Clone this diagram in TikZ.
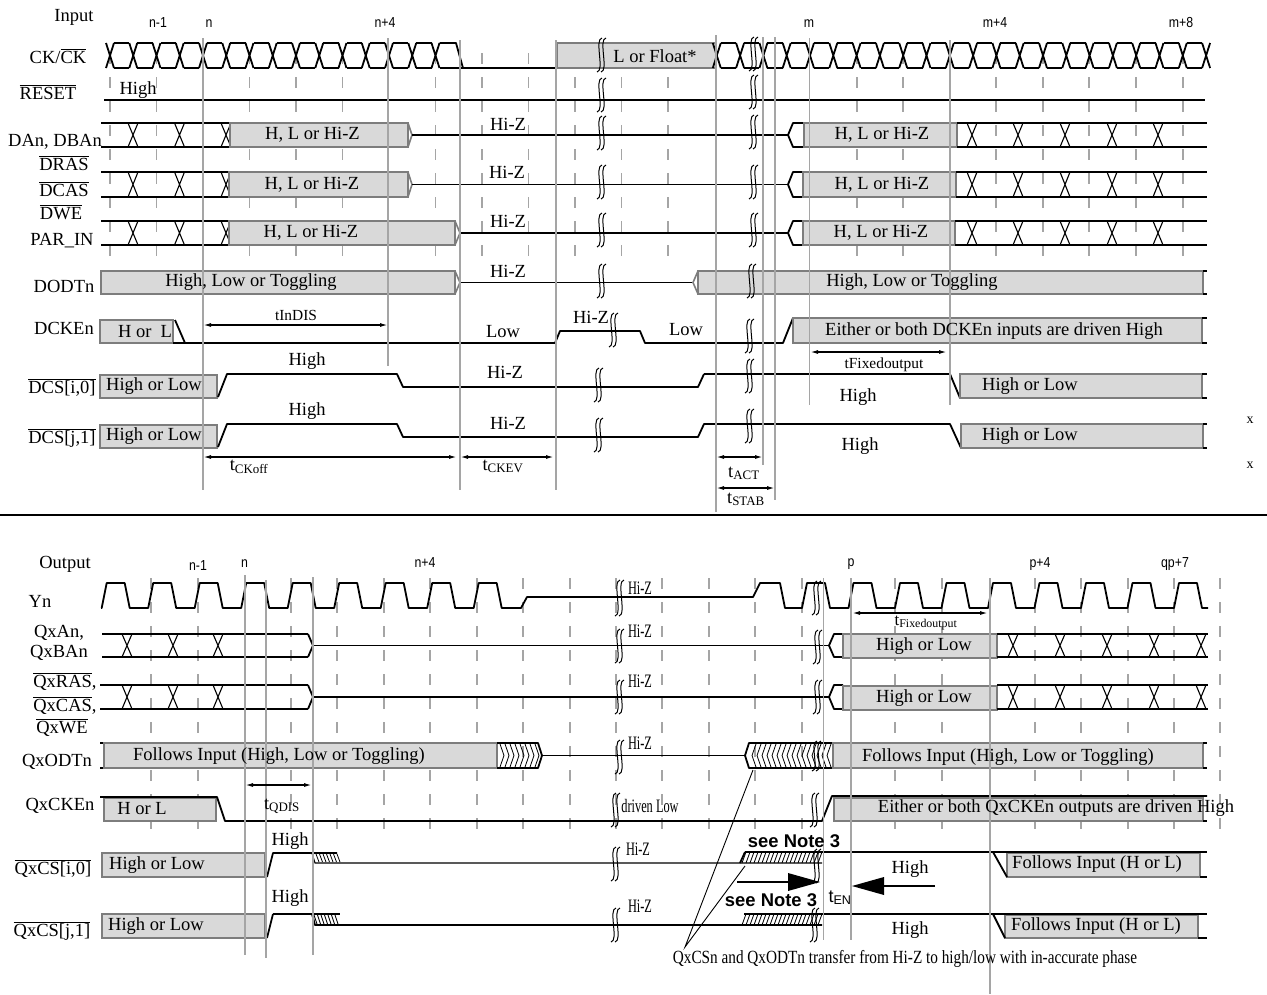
\documentclass[tikz,border=0pt]{standalone}
\usepackage{fontspec}
\setmainfont{Liberation Serif}
\setsansfont{Liberation Sans}
\newfontfamily\nsans[FakeStretch=0.85]{Liberation Sans}
\newfontfamily\sqz[FakeStretch=0.65]{Liberation Serif}
\newfontfamily\sqzn[FakeStretch=0.82]{Liberation Serif}
\usetikzlibrary{arrows.meta}
\definecolor{bfill}{RGB}{217,217,217}
\definecolor{bedge}{RGB}{125,125,125}
\definecolor{vgray}{RGB}{165,165,165}
\newcommand\fA{\fontsize{18.5}{20}\selectfont}
\newcommand\fB{\fontsize{15.4}{17}\selectfont}
\newcommand\fC{\fontsize{17}{18}\selectfont}
\newcommand\fN{\nsans\fontsize{14.5}{15}\selectfont}
\newcommand\fS{\sqz\fontsize{19}{20}\selectfont}
\newcommand\fT{\sqzn\fontsize{18.6}{20}\selectfont}
\newcommand\fX{\fontsize{14}{15}\selectfont}
\newcommand\fQ{\sffamily\bfseries\fontsize{18.4}{20}\selectfont}
\newcommand\fE{\sffamily\fontsize{18}{20}\selectfont}
\newcommand\ov[1]{\ensuremath{\overline{\mbox{#1}}}}
\newcommand\BX[4]{\foreach \xx in {#1} {\draw[sigt] ({\xx-#4},#2)--({\xx+#4},#3) ({\xx-#4},#3)--({\xx+#4},#2);}}
\newcommand\Brk[3]{%
 \draw[brkl] ({#1+2},{#2-#3}) .. controls ({#1-6},{#2-#3+1}) and ({#1+5},{#2+#3-1}) .. ({#1-3},{#2+#3});
 \draw[brkl] ({#1+6},{#2-#3}) .. controls ({#1-2},{#2-#3+1}) and ({#1+9},{#2+#3-1}) .. ({#1+1},{#2+#3});}
\tikzset{
 sig/.style={line width=1.8pt, line join=round},
 sigt/.style={line width=1.1pt},
 bx/.style={draw=bedge, fill=bfill, line width=1.6pt},
 gtip/.style={draw=bedge, line width=1.6pt},
 vl/.style={draw=vgray, line width=1.4pt},
 tk/.style={draw=vgray, line width=1.8pt, dash pattern=on 11pt off 13pt},
 brkl/.style={line width=1pt},
 dim/.style={line width=1.4pt, {Latex[length=8pt,width=4pt]}-{Latex[length=8pt,width=4pt]}},
 hat/.style={line width=0.8pt},
 lb/.style={anchor=base}
}
\begin{document}
\begin{tikzpicture}[x=1pt,y=-1pt, every node/.style={inner sep=0pt,outer sep=0pt,font=\fA}]
\useasboundingbox (0,0) rectangle (1267,994);
\fill[white] (0,0) rectangle (1267,994);

% ---------------- ticks ----------------
\foreach \x in {110,156.5,249.5,296,342.5,435.5,482,528.5,575,621.5,668,857,903,996,1043,1089,1136,1183}
  {\draw[tk] (\x,53) -- (\x,260);}
\foreach \x in {151,198,291,337,384,430,477,523,570,616,662,709,755,802,895,942,1035,1081,1128,1174,1220}
  {\draw[tk] (\x,578) -- (\x,830);}

% ================= INPUT SECTION =================
\foreach \i in {0,...,14} {\pgfmathsetmacro\c{110+23.25*\i}
  \draw[sig] ({\c-4},43)--({\c+4},68) ({\c-4},68)--({\c+4},43);}
\foreach \i in {0,...,13} {\pgfmathsetmacro\c{110+23.25*\i}
  \draw[sig] ({\c+4},43)--({\c+19.25},43) ({\c+4},68)--({\c+19.25},68);}
\draw[sig] (439.5,43)--(456,43)--(463,68);
\draw[sig] (439.5,68)--(557,68);
\draw[bx] (557,43) rectangle (716,68);
\node (lf) at (655,56) {L or Float*};
\foreach \i in {0,...,21} {\pgfmathsetmacro\c{716.8+23.3*\i}
  \draw[sig] ({\c-4},43)--({\c+4},68) ({\c-4},68)--({\c+4},43);}
\foreach \i in {0,...,20} {\pgfmathsetmacro\c{716.8+23.3*\i}
  \draw[sig] ({\c+4},43)--({\c+19.3},43) ({\c+4},68)--({\c+19.3},68);}

% RESET
\draw[sig] (104,100)--(1205,100);

% DAn row
\draw[sig] (101,123)--(230,123) (101,147)--(230,147);
\BX{133,179.5,226}{123}{147}{5}
\draw[bx] (230,123) rectangle (408,147);
\draw[gtip] (408,123)--(412,135)--(408,147);
\draw[sigt] (412,135)--(788,135);
\draw[sig] (804,123)--(793,123)--(788,135)--(793,147)--(804,147);
\draw[bx] (804,123) rectangle (957,147);
\draw[sig] (957,123)--(1207,123) (957,147)--(1207,147);
\BX{972,1018,1065,1112,1158}{123}{147}{5}

% DRAS row
\draw[sig] (101,172)--(229,172) (101,197)--(229,197);
\BX{133,179.5,226}{172}{197}{5}
\draw[bx] (229,172) rectangle (408,197);
\draw[gtip] (408,172)--(412,184.5)--(408,197);
\draw[sigt] (412,184.5)--(788,184.5);
\draw[sig] (803,172)--(793,172)--(788,184.5)--(793,197)--(803,197);
\draw[bx] (803,172) rectangle (956,197);
\draw[sig] (956,172)--(1207,172) (956,197)--(1207,197);
\BX{972,1018,1065,1112,1158}{172}{197}{5}

% DWE row
\draw[sig] (101,221)--(229,221) (101,245)--(229,245);
\BX{133,179.5,226}{221}{245}{5}
\draw[bx] (229,221) rectangle (455,245);
\draw[gtip] (455,221)--(460,233)--(455,245);
\draw[sigt] (460,233)--(788,233);
\draw[sig] (803,221)--(793,221)--(788,233)--(793,245)--(803,245);
\draw[bx] (803,221) rectangle (955,245);
\draw[sig] (955,221)--(1207,221) (955,245)--(1207,245);
\BX{972,1018,1065,1112,1158}{221}{245}{5}

% DODTn
\draw[bx] (101,271) rectangle (455,294);
\draw[gtip] (455,271)--(460,282.5)--(455,294);
\draw[sig] (460,282.5)--(693,282.5);
\draw[gtip] (698,271)--(693,282.5)--(698,294);
\draw[bx] (698,271) rectangle (1203,294);
\draw[sig] (1203,271)--(1207,271) (1203,294)--(1207,294);

% DCKEn
\draw[bx] (100,320) rectangle (173,343);
\draw[sig] (175,320)--(185,343);
\draw[sig] (173,343)--(555,343)--(560,331)--(640,331)--(645,343)--(783,343)--(793,318);
\draw[bx] (793,318) rectangle (1202,343);
\draw[sig] (1202,318)--(1207,318) (1202,343)--(1207,343);

% DCS[i,0]
\draw[bx] (100,375) rectangle (217,398);
\draw[sig] (218,397)--(227,374)--(397,374)--(403,387)--(698,387)--(704,374);
\draw[sigt] (704,374)--(950,374);
\draw[sig] (950,374)--(960,398);
\draw[bx] (960,374) rectangle (1202,398);
\draw[sig] (1202,374)--(1207,374) (1202,398)--(1207,398);

% DCS[j,1]
\draw[bx] (100,425) rectangle (217,448);
\draw[sig] (218,447)--(227,424)--(397,424)--(403,437)--(698,437)--(704,424)--(950,424)--(961,448);
\draw[bx] (961,424) rectangle (1203,448);
\draw[sig] (1203,424)--(1207,424) (1203,448)--(1207,448);

% vertical lines (input)
\draw[vl] (203,38)--(203,490);
\draw[vl] (388,38)--(388,366);
\draw[vl] (460,40)--(460,490);
\draw[vl] (556,40)--(556,490);
\draw[vl] (716,35)--(716,512);
\draw[vl] (763,37)--(763,465);
\draw[vl] (775,37)--(775,500);
\draw[vl] (809.5,38)--(809.5,405);
\draw[vl] (950,40)--(950,405);

% dimension arrows (input)
\coordinate (a1) at (203,325); \coordinate (a2) at (388,325);
\draw[dim] (a1)--(a2);
\coordinate (b1) at (203,457); \coordinate (b2) at (457,457);
\draw[dim] (b1)--(b2);
\coordinate (c1) at (460,457); \coordinate (c2) at (554,457);
\draw[dim] (c1)--(c2);
\coordinate (d1) at (716,457); \coordinate (d2) at (763,457);
\draw[dim] (d1)--(d2);
\coordinate (e1) at (716,488); \coordinate (e2) at (775,488);
\draw[dim] (e1)--(e2);
\coordinate (f1) at (810,352); \coordinate (f2) at (947,352);
\draw[dim] (f1)--(f2);

% breaks (input)
\foreach \y in {55,95,133,182,230,281} {\Brk{600}{\y}{17}}
\Brk{612}{330}{17}
\Brk{597}{385}{17}
\Brk{597}{435}{17}
\foreach \y in {54,92,132,182,230} {\Brk{752}{\y}{17}}
\Brk{750}{281}{17}
\Brk{748}{336}{17}
\Brk{748}{376}{17}
\Brk{748}{426}{17}

% texts (input)
\node[lb] (tin) at (74,21) {Input};
\node[lb,font=\fN] (tn1) at (158,27) {n-1};
\node[lb,font=\fN] (tn) at (209,27) {n};
\node[lb,font=\fN] (tn4) at (385,27) {n+4};
\node[lb,font=\fN] (tm) at (809,27) {m};
\node[lb,font=\fN] (tm4) at (995,27) {m+4};
\node[lb,font=\fN] (tm8) at (1181,27) {m+8};
\node[lb] (lck) at (58,63) {CK/\ov{CK}};
\node[lb] (lrst) at (48,99) {\ov{RESET}};
\node[lb] (hi1) at (138,94) {High};
\node[lb] (ldan) at (55,146) {DAn, DBAn};
\node[lb] (ldras) at (64,170) {\ov{DRAS}};
\node[lb] (ldcas) at (64,196) {\ov{DCAS}};
\node[lb] (ldwe) at (61,219) {\ov{DWE}};
\node[lb] (lpar) at (62,245) {PAR\_IN};
\node[lb] (lodt) at (64,292) {DODTn};
\node[lb] (lcke) at (64,334) {DCKEn};
\node[lb] (lcsi) at (62,393) {\ov{DCS[i,0]}};
\node[lb] (lcsj) at (62,443) {\ov{DCS[j,1]}};
\node (bx1) at (312.5,135) {H, L or Hi-Z};
\node (bx2) at (312,184.5) {H, L or Hi-Z};
\node (bx3) at (311,233) {H, L or Hi-Z};
\node (bx4) at (882,135) {H, L or Hi-Z};
\node (bx5) at (882,184.5) {H, L or Hi-Z};
\node (bx6) at (881,233) {H, L or Hi-Z};
\node (bx7) at (251,282.5) {High, Low or Toggling};
\node (bx8) at (912,282.5) {High, Low or Toggling};
\node (bx9) at (145,332) {H or~ L};
\node (bx10) at (994,331) {Either or both DCKEn inputs are driven High};
\node (bx11) at (154,386.5) {High or Low};
\node (bx12) at (154,436.5) {High or Low};
\node (bx13) at (1030,386) {High or Low};
\node (bx14) at (1030,436) {High or Low};
\node[lb] (hz1) at (508,130) {Hi-Z};
\node[lb] (hz2) at (507,178) {Hi-Z};
\node[lb] (hz3) at (508,227) {Hi-Z};
\node[lb] (hz4) at (508,277) {Hi-Z};
\node[lb] (hz5) at (591,323) {Hi-Z};
\node[lb] (hz6) at (505,378) {Hi-Z};
\node[lb] (hz7) at (508,429) {Hi-Z};
\node[lb] (lo1) at (503,337) {Low};
\node[lb] (lo2) at (686,335) {Low};
\node[lb,font=\fB] (tind) at (296,320) {tInDIS};
\node[lb] (hi2) at (307,365) {High};
\node[lb] (hi3) at (307,415) {High};
\node[lb] (tcko) at (249,470) {t\textsubscript{CKoff}};
\node[lb] (tckev) at (503,470) {t\textsubscript{CKEV}};
\node[lb] (tact) at (744,477) {t\textsubscript{ACT}};
\node[lb] (tstab) at (746,503) {t\textsubscript{STAB}};
\node[lb,font=\fB] (tfix1) at (884,368) {tFixedoutput};
\node[lb] (hi4) at (858,401) {High};
\node[lb] (hi5) at (860,450) {High};
\node[lb,font=\fX] (x1) at (1250,423) {x};
\node[lb,font=\fX] (x2) at (1250,468) {x};

% separator
\draw[line width=2.6pt] (0,515)--(1267,515);

% ================= OUTPUT SECTION =================
\draw[sig] (101,608)
  foreach \r in {104.2,150.7,197.2,243.7,290.2,336.7,383.2,429.7,476.2} {
    -- ({\r-2.5},608) -- ({\r+2.5},583) -- ({\r+20.5},583) -- ({\r+25.5},608) }
  -- (521,608) -- (527,597) -- (753,597) -- (760,583) -- (780,583) -- (785,608)
  foreach \r in {804.5,851,897.5,944,990.5,1037,1083.5,1130,1176.5} {
    -- ({\r-2.5},608) -- ({\r+2.5},583) -- ({\r+20.5},583) -- ({\r+25.5},608) }
  -- (1208,608);

% QxAn
\draw[sig] (102,634)--(308,634) (102,657)--(308,657);
\BX{127,173,218}{634}{657}{5}
\draw[sig] (308,634)--(313,645.5)--(308,657);
\draw[sigt] (313,645.5)--(829,645.5);
\draw[sig] (843,634)--(834,634)--(829,645.5)--(834,657)--(843,657);
\draw[bx] (843,634) rectangle (997,658);
\draw[sig] (997,634)--(1208,634) (997,657)--(1208,657);
\BX{1013,1060,1107,1154,1201}{634}{657}{5}

% QxRAS
\draw[sig] (100,685)--(308,685) (100,709)--(308,709);
\BX{127,173,218}{685}{709}{5}
\draw[sig] (308,685)--(313,697)--(308,709);
\draw[sig] (313,697)--(829,697);
\draw[sig] (843,685)--(834,685)--(829,697)--(834,709)--(843,709);
\draw[bx] (843,686) rectangle (997,710);
\draw[sig] (997,685)--(1208,685) (997,709)--(1208,709);
\BX{1013,1060,1107,1154,1201}{685}{709}{5}

% QxODTn
\draw[sig] (100,743)--(104,743) (100,768)--(104,768);
\draw[bx] (104,743) rectangle (497,768);
\draw[sig] (497,743)--(538,743)--(542,755.5)--(538,768)--(497,768);
\foreach \x in {500,505,...,535} {\draw[hat] (\x,744)--({\x+4},755.5)--(\x,767);}
\draw[sigt] (542,755.5)--(745,755.5);
\draw[sig] (833,743)--(749,743)--(745,755.5)--(749,768)--(833,768);
\foreach \x in {752,757,...,827} {\draw[hat] ({\x+4},744)--(\x,755.5)--({\x+4},767);}
\draw[bx] (833,743) rectangle (1203,768);
\draw[sig] (1203,743)--(1207,743) (1203,768)--(1207,768);

% QxCKEn
\draw[bx] (104,798) rectangle (216,821);
\draw[sig] (100,797)--(217,797)--(225,821)--(822,821)--(832,796)--(1207,796);
\draw[bx] (834,798) rectangle (1203,821);
\draw[sig] (1203,821)--(1207,821);

% QxCS[i,0]
\draw[bx] (102,853) rectangle (265,877);
\draw[sig] (267,877)--(273,853)--(337,853);
\draw[sigt] (312,853)--(315,863)--(822,863);
\foreach \x in {316,319.5,...,338} {\draw[hat] (\x,854)--({\x+3},862);}
\foreach \x in {742,746,...,818} {\draw[hat] (\x,863)--({\x+4},852);}
\draw[sig] (740,863)--(745,852);
\draw[bx] (1007,853) rectangle (1200,877);
\draw[sig] (745,852)--(1207,852);
\draw[sig] (993,852)--(1007,877);
\draw[sig] (1200,877)--(1207,877);

% QxCS[j,1]
\draw[bx] (102,914) rectangle (265,938);
\draw[sig] (267,938)--(273,914);
\draw[sigt] (273,914)--(340,914);
\foreach \x in {314,317.5,...,338} {\draw[hat] (\x,915)--({\x+3},924);}
\draw[sig] (312,914)--(315,925)--(822,925);
\foreach \x in {742,746,...,818} {\draw[hat] (\x,925)--({\x+4},914);}
\draw[bx] (1005,915) rectangle (1198,938);
\draw[sig] (744,914)--(1207,914);
\draw[sig] (993,914)--(1005,938);
\draw[sig] (1198,938)--(1207,938);

% vertical lines (output)
\draw[vl] (245,575)--(245,955);
\draw[vl] (266,580)--(266,958);
\draw[vl] (313,577)--(313,955);
\draw[draw=vgray, line width=1pt] (823,578)--(823,940);
\draw[vl] (851,578)--(851,940);
\draw[vl] (990,578)--(990,994);

% dimension arrows (output)
\coordinate (g1) at (245,785); \coordinate (g2) at (312,785);
\draw[dim] (g1)--(g2);
\coordinate (h1) at (852,613); \coordinate (h2) at (988,613);
\draw[dim] (h1)--(h2);
\coordinate (ra) at (737,882); \coordinate (rb) at (790,882);
\draw[line width=1.8pt] (ra)--(rb);
\fill (788,873)--(820,882)--(788,891)--cycle;
\coordinate (la) at (935,886); \coordinate (lb2) at (882,886);
\draw[line width=1.8pt] (la)--(lb2);
\fill (884,877)--(852,886)--(884,895)--cycle;

% breaks (output)
\Brk{618}{598}{18}
\Brk{618}{646}{17}
\Brk{618}{697}{17}
\Brk{618}{757}{17}
\Brk{614}{810}{17}
\Brk{614}{864}{17}
\Brk{614}{925}{17}
\Brk{815}{598}{17}
\Brk{816}{647}{17}
\Brk{816}{697}{17}
\Brk{815}{756}{15}
\Brk{813}{810}{17}
\Brk{815}{866}{17}
\Brk{813}{925}{17}

% note lines
\coordinate (nt) at (685,947);
\coordinate (nq) at (753,770);
\coordinate (nc) at (745,866);
\draw[line width=0.9pt] (nq)--(nt)--(nc);

% texts (output)
\node[lb] (tout) at (65,568) {Output};
\node[lb,font=\fN] (un1) at (198,570) {n-1};
\node[lb,font=\fN] (un) at (244.5,567) {n};
\node[lb,font=\fN] (un4) at (425,567) {n+4};
\node[lb,font=\fN] (up) at (851,566) {p};
\node[lb,font=\fN] (up4) at (1040,567) {p+4};
\node[lb,font=\fN] (up7) at (1175,567) {qp+7};
\node[lb] (lyn) at (40,607) {Yn};
\node[lb] (lqa) at (59,637) {QxAn,};
\node[lb] (lqb) at (59,657) {QxBAn};
\node[lb] (lqr) at (65,687) {\ov{QxRAS},};
\node[lb] (lqc) at (65,711) {\ov{QxCAS},};
\node[lb] (lqw) at (62,733) {\ov{QxWE}};
\node[lb] (lqo) at (57,766) {QxODTn};
\node[lb] (lqk) at (60,810) {QxCKEn};
\node[lb] (lqi) at (53,874) {\ov{QxCS[i,0]}};
\node[lb] (lqj) at (52,936) {\ov{QxCS[j,1]}};
\node[lb,font=\fS] (sh1) at (640,594) {Hi-Z};
\node[lb,font=\fS] (sh2) at (640,637) {Hi-Z};
\node[lb,font=\fS] (sh3) at (640,687) {Hi-Z};
\node[lb,font=\fS] (sh4) at (640,749) {Hi-Z};
\node[lb,font=\fS] (sh5) at (638,855) {Hi-Z};
\node[lb,font=\fS] (sh6) at (640,912) {Hi-Z};
\node[lb,font=\fS] (dlow) at (650,812) {driven Low};
\node[lb] (tqd) at (282,809) {t\textsubscript{QDIS}};
\node[lb] (hq1) at (290,845) {High};
\node[lb] (hq2) at (290,902) {High};
\node[lb,font=\fC] (tfix2) at (926,625) {t\textsubscript{Fixedoutput}};
\node[lb,font=\fQ] (sn1) at (794,847) {see Note 3};
\node[lb,font=\fQ] (sn2) at (771,906) {see Note 3};
\node[lb,font=\fE] (ten) at (840,902) {t\textsubscript{EN}};
\node[lb] (hq3) at (910,873) {High};
\node[lb] (hq4) at (910,934) {High};
\node (qb1) at (157,865) {High or Low};
\node (qb2) at (156,926) {High or Low};
\node (qb3) at (142,809) {H or L};
\node (qb4) at (279,756) {Follows Input (High, Low or Toggling)};
\node (qb5) at (1008,757) {Follows Input (High, Low or Toggling)};
\node (qb6) at (924,646) {High or Low};
\node (qb7) at (924,698) {High or Low};
\node (qb8) at (1056,808) {Either or both QxCKEn outputs are driven High};
\node (qb9) at (1097,864) {Follows Input (H or L)};
\node (qb10) at (1096,926) {Follows Input (H or L)};
\node[lb,font=\fT] (note) at (905,963) {QxCSn and QxODTn transfer from Hi-Z to high/low with in-accurate phase};
\end{tikzpicture}
\end{document}
